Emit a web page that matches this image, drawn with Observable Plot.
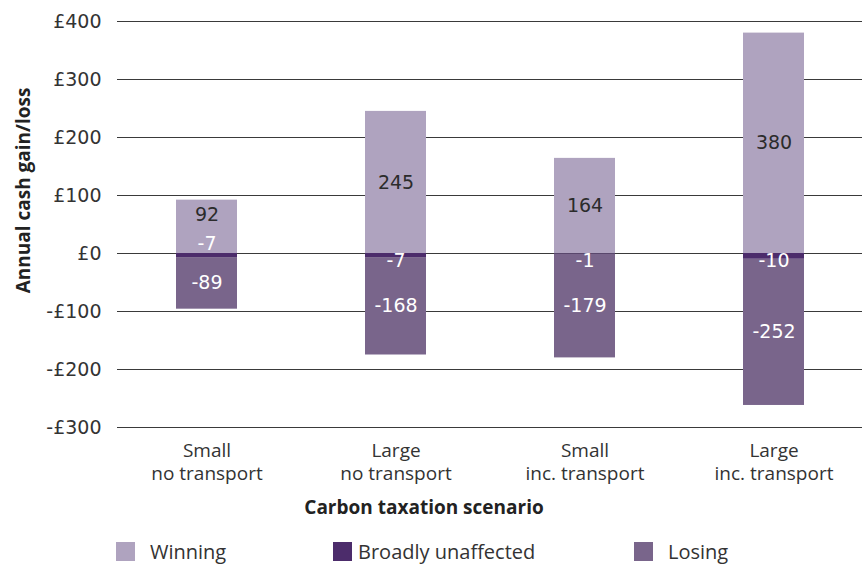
<!DOCTYPE html>
<html>
<head>
<meta charset="utf-8">
<script src="https://cdn.jsdelivr.net/npm/d3@7"></script>
<script src="https://cdn.jsdelivr.net/npm/@observablehq/plot@0.6"></script>
<style>
  body { margin: 0; background: #fff; }
  #chart svg { display: block; }
  #legend { position: relative; width: 862px; height: 37px; font-family: "Open Sans", sans-serif; font-size: 20px; color: #333; }
  #legend .sw { position: absolute; top: 12px; width: 19px; height: 19px; }
  #legend .lb { position: absolute; top: 12px; height: 19px; line-height: 19px; white-space: nowrap; }
</style>
</head>
<body>
<div id="chart"></div>
<div id="legend"></div>
<script>
// ---- data ----
const scenarios = ["Small\nno transport", "Large\nno transport", "Small\ninc. transport", "Large\ninc. transport"];
const groups = ["Winning", "Broadly unaffected", "Losing"];
const colors = ["#afa3bf", "#4c2c6b", "#79658b"];
const winning = [92, 245, 164, 380];
const unaffected = [-7, -7, -1, -10];
const losing = [-89, -168, -179, -252];
const yTicks = [-300, -200, -100, 0, 100, 200, 300, 400];
const yTitle = "Annual cash gain/loss";
const xTitle = "Carbon taxation scenario";

// legend layout (px)
const swatchLeft = [116, 333, 634];
const labelLeft = [150, 358, 668];

const rows = scenarios.flatMap((s, i) => [
  {scenario: s, group: groups[0], value: winning[i]},
  {scenario: s, group: groups[1], value: unaffected[i]},
  {scenario: s, group: groups[2], value: losing[i]}
]);

const fmt = d => (d < 0 ? "-£" + (-d) : "£" + d);
const numFont = "DejaVu Sans";
const first = scenarios[0];

const chart = Plot.plot({
  width: 862,
  height: 530,
  marginLeft: 117,
  marginRight: 0,
  marginTop: 21,
  marginBottom: 103,
  style: {fontFamily: "Open Sans", fontSize: "19px", color: "#333", background: "#fff"},
  x: {domain: scenarios, range: [111, 868], paddingInner: 0.678, paddingOuter: 0.339, axis: null},
  y: {domain: [-300, 400], axis: null},
  color: {domain: groups, range: colors},
  marks: [
    Plot.gridY(yTicks, {stroke: "#3a3a3a", strokeOpacity: 1, strokeWidth: 1}),
    Plot.axisY({ticks: yTicks, tickSize: 0, tickPadding: 16, tickFormat: fmt, label: null,
      fontFamily: numFont, fontSize: 19, fill: "#333"}),
    Plot.axisX({tickSize: 0, tickPadding: 12, label: null, fontSize: 19, lineHeight: 1.26, fill: "#333"}),
    Plot.barY(rows, Plot.stackY({x: "scenario", y: "value", fill: "group"})),
    // winning labels (centre of the winning segment)
    Plot.text(rows.filter(d => d.group === groups[0] && d.scenario !== first), Plot.stackY({x: "scenario", y: "value",
      text: d => String(d.value), fill: "#2b2b2b", fontFamily: numFont, fontSize: 19})),
    Plot.text(rows.filter(d => d.group === groups[0] && d.scenario === first), Plot.stackY({x: "scenario", y: "value",
      text: d => String(d.value), dy: -12, fill: "#2b2b2b", fontFamily: numFont, fontSize: 19})),
    // losing labels (centre of the losing segment)
    Plot.text(rows, Plot.stackY({x: "scenario", y: "value",
      text: d => d.group === groups[2] ? String(d.value) : null,
      fill: "#fff", fontFamily: numFont, fontSize: 19})),
    // broadly unaffected labels near zero
    Plot.text(rows.filter(d => d.group === groups[1] && d.scenario === first),
      {x: "scenario", y: 0, text: d => String(d.value), dy: -10, fill: "#fff", fontFamily: numFont, fontSize: 19}),
    Plot.text(rows.filter(d => d.group === groups[1] && d.scenario !== first),
      {x: "scenario", y: 0, text: d => String(d.value), dy: 7, fill: "#fff", fontFamily: numFont, fontSize: 19}),
    Plot.text([yTitle], {frameAnchor: "left", textAnchor: "middle", lineAnchor: "middle", rotate: -90,
      dx: -94, dy: -34, fontWeight: "bold", fontSize: 19, fill: "#222"}),
    Plot.text([xTitle], {frameAnchor: "bottom", textAnchor: "middle", lineAnchor: "middle",
      dx: -66, dy: 80, fontWeight: "bold", fontSize: 19, fill: "#222"})
  ]
});
document.getElementById("chart").append(chart);

const legend = document.getElementById("legend");
groups.forEach((g, i) => {
  const sw = document.createElement("div");
  sw.className = "sw";
  sw.style.left = swatchLeft[i] + "px";
  sw.style.background = colors[i];
  const lb = document.createElement("div");
  lb.className = "lb";
  lb.style.left = labelLeft[i] + "px";
  lb.textContent = g;
  legend.append(sw, lb);
});
</script>
</body>
</html>
